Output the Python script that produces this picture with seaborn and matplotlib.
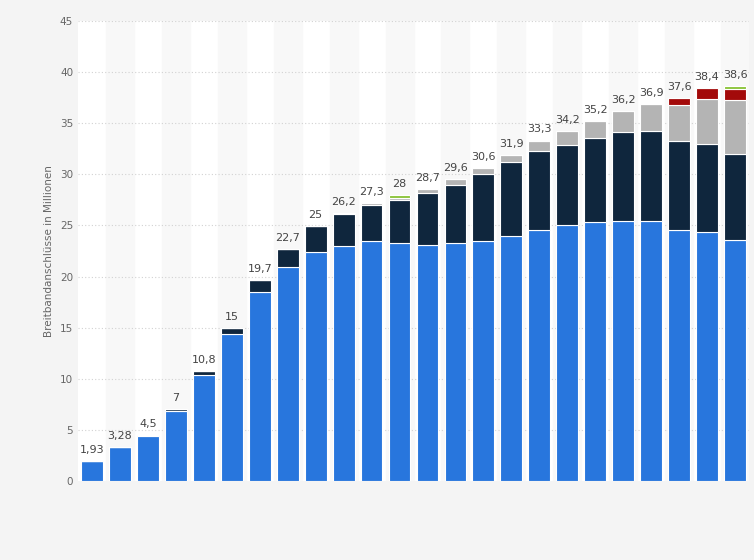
import numpy as np
import pandas as pd
import seaborn as sns
from matplotlib import pyplot as plt

totals = ['1,93', '3,28', '4,5', '7', '10,8', '15', '19,7', '22,7', '25', '26,2', '27,3', '28',
          '28,7', '29,6', '30,6', '31,9', '33,3', '34,2', '35,2', '36,2', '36,9', '37,6', '38,4', '38,6']
blue = [1.93, 3.28, 4.45, 6.8, 10.4, 14.35, 18.45, 20.9, 22.4, 23.0, 23.5, 23.3,
        23.1, 23.3, 23.5, 24.0, 24.6, 25.0, 25.3, 25.4, 25.4, 24.6, 24.4, 23.6]
navy = [0, 0, 0.05, 0.2, 0.35, 0.6, 1.2, 1.75, 2.55, 3.1, 3.5, 4.2,
        5.1, 5.7, 6.5, 7.2, 7.7, 7.9, 8.3, 8.7, 8.8, 8.7, 8.6, 8.4]
grey = [0, 0, 0, 0, 0, 0, 0, 0, 0, 0.1, 0.2, 0.2,
        0.4, 0.5, 0.6, 0.7, 1.0, 1.3, 1.6, 2.1, 2.7, 3.5, 4.4, 5.3]
red = [0]*21 + [0.7, 1.0, 1.0]
green = [0]*11 + [0.3] + [0]*11 + [0.3]

sns.set_style('white')
fig = plt.figure(figsize=(7.54, 5.6), dpi=100, facecolor='#f4f4f4')
ax = fig.add_axes([78/754, 1-481/560, 671/754, 460/560])
ax.set_facecolor('white')
n = len(blue)
x = np.arange(n)
for i in range(1, n, 2):
    ax.axvspan(i-0.5, i+0.5, color='#f8f8f8', zorder=0)
for y in range(5, 46, 5):
    ax.axhline(y, color='#d2d2d2', ls=(0, (1, 2)), lw=0.8, zorder=1)

bottom = np.zeros(n)
for vals, col in [(blue, '#2876dd'), (navy, '#0f263d'), (grey, '#b4b4b4'), (red, '#a30a0a'), (green, '#8cc43c')]:
    df = pd.DataFrame({'x': x, 'v': vals})
    ax.bar(df.x, df.v, bottom=bottom, width=0.78, color=col, edgecolor='white', linewidth=0.8, zorder=2)
    bottom += np.array(vals)
for i, t in enumerate(totals):
    ax.text(i, bottom[i] + 0.6, t, ha='center', va='bottom', fontsize=8, color='#444444')

ax.set_xlim(-0.5, n-0.5)
ax.set_ylim(0, 45)
ax.set_yticks(range(0, 46, 5))
ax.tick_params(axis='y', labelsize=7.5, colors='#666666', length=0)
ax.set_xticks([])
ax.set_ylabel('Breitbandanschlüsse in Millionen', fontsize=7.5, color='#666666')
for s in ax.spines.values():
    s.set_visible(False)
fig.savefig('out.png', dpi=100, facecolor=fig.get_facecolor())
